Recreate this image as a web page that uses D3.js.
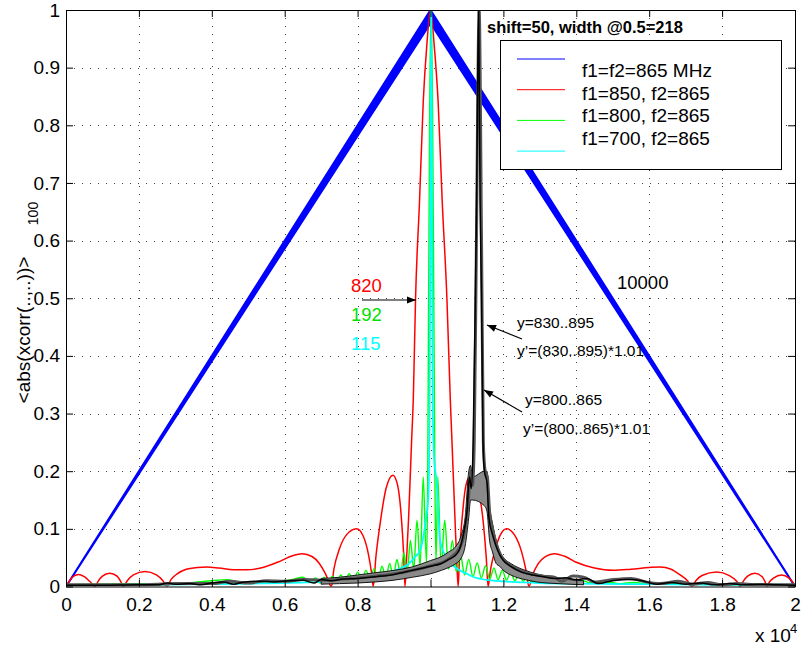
<!DOCTYPE html>
<html>
<head>
<meta charset="utf-8">
<script src="https://cdn.jsdelivr.net/npm/d3@7"></script>
<style>
  body { margin: 0; background: #fff; }
  svg text { font-family: "Liberation Sans", Arial, Helvetica, sans-serif; }
</style>
</head>
<body>
<svg id="chart"></svg>
<script>
// lags on x (axis shows them in units of 10^4), mean |xcorr| on y
const xTicks = [0, 2000, 4000, 6000, 8000, 10000, 12000, 14000, 16000, 18000, 20000];
const yTicks = [0, 0.1, 0.2, 0.3, 0.4, 0.5, 0.6, 0.7, 0.8, 0.9, 1];

// f1=f2=865 MHz : triangle, two nearly identical curves
const blueX = [0, 10000, 20000];
const blueHi = [0, 1, 0];
const blueLo = [0, 0.977, 0];

// f1=850, f2=865
const redX = [0, 80, 170, 340, 500, 650, 800, 880, 1000, 1200, 1400, 1500, 1570, 1680, 1850, 2170, 2480, 2660, 2770,
  2880, 3050, 3300, 3600, 3860, 4200, 4600, 4960, 5400, 5800, 6200, 6480, 6750, 6950, 7120, 7280,
  7350, 7500, 7700, 7970, 8150, 8300, 8380, 8430, 8500, 8620, 8780, 8970, 9100, 9200, 9260, 9300,
  9330, 9400, 9480, 9530, 9590, 9700, 9800, 9900, 10000, 10100, 10210, 10320, 10450, 10540, 10590, 10670, 10730, 10760,
  10800, 10870, 10970, 11100, 11300, 11450, 11530, 11580, 11650, 11780, 11920, 12090, 12300, 12500, 12620, 12700,
  12800, 12960, 13150, 13400, 13700, 14000, 14500, 15000, 15500, 16000, 16300, 16600, 16850, 17050, 17170,
  17280, 17450, 17850, 18200, 18400, 18500, 18580, 18700, 18900, 19100, 19180, 19230, 19300, 19420, 19630, 19830, 19940, 20000];
const redY = [0, 0.008, 0.016, 0.021, 0.017, 0.009, 0, 0.009, 0.018, 0.023, 0.018, 0.009, 0, 0.01, 0.02, 0.026, 0.02, 0.01, 0,
  0.012, 0.022, 0.03, 0.033, 0.034, 0.032, 0.029, 0.029, 0.033, 0.042, 0.053, 0.057, 0.052, 0.04, 0.022, 0,
  0.03, 0.065, 0.09, 0.1, 0.088, 0.055, 0.025, 0, 0.05, 0.11, 0.17, 0.193, 0.175, 0.12, 0.06, 0,
  0.03, 0.12, 0.25, 0.33, 0.5, 0.67, 0.84, 0.94, 1, 0.94, 0.84, 0.67, 0.5, 0.33, 0.25, 0.12, 0.03, 0,
  0.06, 0.12, 0.175, 0.193, 0.17, 0.11, 0.05, 0, 0.03, 0.065, 0.09, 0.1, 0.09, 0.06, 0.028, 0,
  0.02, 0.04, 0.052, 0.057, 0.052, 0.042, 0.032, 0.028, 0.03, 0.033, 0.034, 0.03, 0.02, 0.01, 0,
  0.01, 0.019, 0.025, 0.019, 0.009, 0, 0.009, 0.018, 0.023, 0.017, 0.008, 0, 0.008, 0.015, 0.02, 0.015, 0.007, 0];

// f1=800, f2=865
const greenX = [0, 1000, 2000, 2800, 3500, 4000, 4400, 4800, 5300, 5800, 6200, 6500, 6700,
  6850, 6965, 7080, 7195, 7310, 7425, 7540, 7655, 7770, 7885, 8000, 8115, 8230, 8340, 8450, 8560, 8670, 8775, 8880, 8980,
  9080, 9175, 9270, 9360, 9450, 9540, 9630, 9715, 9800, 9890,
  9925, 9945, 9975, 10015, 10060, 10095, 10120, 10150,
  10200, 10290, 10390, 10495, 10600, 10710, 10820, 10935, 11050, 11165, 11280, 11395, 11510, 11625, 11740, 11855, 11970, 12085,
  12200, 12315, 12430, 12545, 12660, 12775, 12890, 13005, 13120, 13235,
  13500, 13800, 14100, 14400, 14800, 15200, 15600, 16000, 16500, 17000, 17500, 18000, 18500, 19000, 19500, 20000];
const greenY = [0.003, 0.004, 0.005, 0.004, 0.007, 0.01, 0.012, 0.007, 0.008, 0.009, 0.012, 0.016, 0.008,
  0.015, 0.006, 0.016, 0.007, 0.018, 0.008, 0.02, 0.009, 0.022, 0.01, 0.025, 0.011, 0.028, 0.012, 0.031, 0.013, 0.035, 0.015, 0.04, 0.017,
  0.047, 0.02, 0.058, 0.025, 0.08, 0.03, 0.115, 0.035, 0.19, 0.04,
  0.2, 0.45, 0.8, 1, 0.8, 0.45, 0.2, 0.04,
  0.19, 0.035, 0.115, 0.03, 0.08, 0.025, 0.056, 0.02, 0.047, 0.017, 0.041, 0.015, 0.036, 0.013, 0.032, 0.012, 0.028, 0.011,
  0.025, 0.01, 0.021, 0.009, 0.017, 0.008, 0.014, 0.007, 0.012, 0.006,
  0.009, 0.006, 0.012, 0.006, 0.008, 0.005, 0.007, 0.004, 0.006, 0.004, 0.005, 0.003, 0.004, 0.003, 0.003, 0.002];

// f1=700, f2=865
const cyanX = [0, 2000, 4000, 5000, 6000, 7000, 7500, 8000, 8500, 8800, 9000, 9160, 9400, 9570, 9710, 9800, 9880, 9940, 9975, 9995,
  10020, 10045, 10065, 10100, 10170, 10220, 10260, 10440, 10700, 11000, 11200, 11600, 12000, 13000, 14000, 16000, 18000, 20000];
const cyanY = [0.002, 0.003, 0.004, 0.005, 0.006, 0.008, 0.01, 0.012, 0.016, 0.022, 0.027, 0.031, 0.039, 0.051, 0.0625, 0.085, 0.12, 0.155, 0.3, 0.6,
  1, 0.6, 0.3, 0.22, 0.18, 0.12, 0.08, 0.05, 0.032, 0.022, 0.016, 0.011, 0.009, 0.006, 0.005, 0.004, 0.003, 0.003];

// shifted signal, y=830..895 and y'=(830..895)*1.01
const blackAX = [0, 1000, 2000, 2500, 2800, 3000, 3400, 3700, 4000, 4300, 4600, 4900, 5300, 5700, 6100, 6500, 6800, 7000, 7300, 7600,
  8000, 8500, 9000, 9500, 10000, 10300, 10500, 10700, 10800, 10900, 11000, 11070, 11120, 11170, 11230, 11265, 11320, 11360, 11400, 11440,
  11480, 11550, 11600, 11700, 11800, 11900, 12000, 12200, 12500, 12800, 13100, 13400, 13700, 14000, 14300, 14600, 15000, 15400, 15800, 16200,
  16600, 17000, 17400, 17800, 18200, 18600, 19000, 19500, 20000];
const blackAY = [0.002, 0.002, 0.003, 0.003, 0.006, 0.004, 0.005, 0.003, 0.006, 0.008, 0.004, 0.008, 0.009, 0.008, 0.01, 0.011, 0.006, 0.012, 0.01, 0.013,
  0.014, 0.017, 0.021, 0.028, 0.035, 0.04, 0.047, 0.055, 0.065, 0.09, 0.13, 0.19, 0.17, 0.25, 0.5, 0.67, 1, 0.67, 0.5, 0.25,
  0.2, 0.18, 0.12, 0.09, 0.07, 0.055, 0.045, 0.035, 0.025, 0.02, 0.017, 0.014, 0.015, 0.012, 0.014, 0.005, 0.01, 0.012, 0.01, 0.004,
  0.007, 0.004, 0.006, 0.003, 0.005, 0.003, 0.004, 0.003, 0.002];
const blackBX = [0, 2000, 3000, 4000, 4500, 5000, 5500, 6000, 6500, 7000, 8000, 9000, 10000, 10500, 10800, 10950, 11050, 11100, 11150, 11200,
  11260, 11335, 11400, 11450, 11500, 11560, 11620, 11700, 11800, 11900, 12000, 12200, 12500, 12800, 13100, 13400, 13600, 13900, 14200, 14500,
  15000, 15500, 15900, 16300, 16800, 17200, 17600, 18000, 18400, 19000, 20000];
const blackBY = [0.003, 0.003, 0.005, 0.005, 0.009, 0.006, 0.01, 0.009, 0.012, 0.011, 0.015, 0.022, 0.036, 0.048, 0.067, 0.1, 0.16, 0.2, 0.175, 0.25,
  0.6, 1, 0.6, 0.25, 0.2, 0.19, 0.13, 0.1, 0.075, 0.058, 0.047, 0.036, 0.026, 0.021, 0.018, 0.016, 0.009, 0.018, 0.016, 0.008,
  0.012, 0.014, 0.008, 0.005, 0.009, 0.004, 0.007, 0.003, 0.005, 0.003, 0.003];
// envelope of the fast ripple on the shifted curves
const rippleX = [7000, 7500, 8000, 8500, 9000, 9500, 10000, 10300, 10500, 10700, 10850, 10950, 11050, 11100, 11150,
  11480, 11550, 11620, 11700, 11800, 11900, 12000, 12200, 12400, 12600, 12900, 13200, 13500, 13800, 14200];
const rippleLo = [0.004, 0.005, 0.006, 0.008, 0.011, 0.016, 0.022, 0.028, 0.033, 0.04, 0.05, 0.07, 0.12, 0.15, 0.15,
  0.14, 0.13, 0.08, 0.06, 0.04, 0.035, 0.028, 0.02, 0.015, 0.012, 0.008, 0.006, 0.005, 0.004, 0.003];
const rippleHi = [0.014, 0.016, 0.02, 0.024, 0.028, 0.034, 0.045, 0.052, 0.06, 0.07, 0.09, 0.12, 0.2, 0.21, 0.19,
  0.2, 0.2, 0.14, 0.11, 0.08, 0.06, 0.05, 0.04, 0.033, 0.028, 0.022, 0.018, 0.015, 0.012, 0.01];

const legendLabels = ["f1=f2=865 MHz", "f1=850, f2=865", "f1=800, f2=865", "f1=700, f2=865"];
const legendColors = ["#0000ff", "#ff0000", "#00ff00", "#00ffff"];
const widthLabels = ["820", "192", "115"];
const widthColors = ["#ff0000", "#00e000", "#00ffff"];

const W = 801, H = 650;
const box = { left: 66, right: 795, top: 10, bottom: 586.5 };

const svg = d3.select("#chart").attr("width", W).attr("height", H);

const x = d3.scaleLinear().domain([0, 20000]).range([box.left, box.right]);
const y = d3.scaleLinear().domain([0, 1]).range([box.bottom, box.top]);

svg.append("defs").append("clipPath").attr("id", "clip")
  .append("rect").attr("x", box.left).attr("y", box.top)
  .attr("width", box.right - box.left).attr("height", box.bottom - box.top);

svg.append("defs").append("marker").attr("id", "head")
  .attr("viewBox", "0 0 10 10").attr("refX", 10).attr("refY", 5)
  .attr("markerWidth", 12).attr("markerHeight", 9).attr("markerUnits", "userSpaceOnUse")
  .attr("orient", "auto")
  .append("path").attr("d", "M0,1 L10,5 L0,9 Z").attr("fill", "#000");

// dotted grid
const grid = svg.append("g").attr("stroke", "#444").attr("stroke-dasharray", "1,7")
  .attr("shape-rendering", "crispEdges");
grid.selectAll(".gx").data(xTicks.slice(1, -1)).join("line")
  .attr("x1", d => Math.round(x(d)) + 0.5).attr("x2", d => Math.round(x(d)) + 0.5)
  .attr("y1", box.top).attr("y2", box.bottom);
grid.selectAll(".gy").data(yTicks.slice(1, -1)).join("line")
  .attr("y1", d => Math.round(y(d)) + 0.5).attr("y2", d => Math.round(y(d)) + 0.5)
  .attr("x1", box.left).attr("x2", box.right);

const plot = svg.append("g").attr("clip-path", "url(#clip)");

const line = (xs, ys) => d3.line().curve(d3.curveMonotoneX)
  .x((d, i) => x(xs[i])).y(d => y(d))(ys);

// blue band
plot.append("path")
  .datum(blueX)
  .attr("d", d3.area().x(d => x(d)).y0((d, i) => y(blueLo[i])).y1((d, i) => y(blueHi[i])))
  .attr("fill", "#0000ff").attr("stroke", "#0000ff").attr("stroke-width", 2);

plot.append("path").attr("d", line(redX, redY))
  .attr("fill", "none").attr("stroke", "#ff0000").attr("stroke-width", 1.5);
plot.append("path").attr("d", line(greenX, greenY))
  .attr("fill", "none").attr("stroke", "#00ff00").attr("stroke-width", 1.4);
plot.append("path").attr("d", line(cyanX, cyanY))
  .attr("fill", "none").attr("stroke", "#00ffff").attr("stroke-width", 1.8);

plot.append("path")
  .datum(rippleX)
  .attr("d", d3.area().curve(d3.curveMonotoneX).x(d => x(d))
    .y0((d, i) => y(rippleLo[i])).y1((d, i) => y(rippleHi[i])))
  .attr("fill", "#8a8a8a").attr("stroke", "#000").attr("stroke-width", 0.9);
plot.append("path").attr("d", line(blackBX, blackBY))
  .attr("fill", "none").attr("stroke", "#555").attr("stroke-width", 3);
plot.append("path").attr("d", line(blackAX, blackAY))
  .attr("fill", "none").attr("stroke", "#000").attr("stroke-width", 1.5);

// axes, MATLAB style: ticks inside on all four sides
const axG = svg.append("g").attr("font-size", 19);
axG.append("g").attr("transform", `translate(0,${box.bottom})`)
  .call(d3.axisBottom(x).tickValues(xTicks).tickSizeInner(-7).tickSizeOuter(0).tickPadding(11)
    .tickFormat(d => d / 1e4));
axG.append("g").attr("transform", `translate(${box.left},0)`)
  .call(d3.axisLeft(y).tickValues(yTicks).tickSizeInner(-7).tickSizeOuter(0).tickPadding(6)
    .tickFormat(d => d));
axG.append("g").attr("transform", `translate(0,${box.top})`)
  .call(d3.axisTop(x).tickValues(xTicks).tickSizeInner(-7).tickSizeOuter(0).tickFormat(""));
axG.append("g").attr("transform", `translate(${box.right},0)`)
  .call(d3.axisRight(y).tickValues(yTicks).tickSizeInner(-7).tickSizeOuter(0).tickFormat(""));
axG.selectAll("text").attr("font-family", null).attr("fill", "#000").attr("font-size", 19);
axG.selectAll("path, line").attr("stroke", "#000");

// axis labels
svg.append("text").attr("transform", "translate(29.5,330) rotate(-90)")
  .attr("text-anchor", "middle").attr("font-size", 19).text("<abs(xcorr(..,..))>");
svg.append("text").attr("transform", "translate(38,213.5) rotate(-90)")
  .attr("text-anchor", "middle").attr("font-size", 14).text("100");
svg.append("text").attr("x", 755).attr("y", 642).attr("font-size", 19).text("x 10");
svg.append("text").attr("x", 790).attr("y", 633).attr("font-size", 13).text("4");

// title
svg.append("text").attr("x", 487).attr("y", 33).attr("font-size", 16.5)
  .attr("font-weight", "bold").text("shift=50, width @0.5=218");

// legend
const lg = svg.append("g");
lg.append("rect").attr("x", 500.5).attr("y", 40.5).attr("width", 281).attr("height", 129)
  .attr("fill", "#fff").attr("stroke", "#000");
lg.selectAll(".ll").data(legendLabels).join("line")
  .attr("x1", 517).attr("x2", 565)
  .attr("y1", (d, i) => 59 + i * 30.7).attr("y2", (d, i) => 59 + i * 30.7)
  .attr("stroke", (d, i) => legendColors[i]).attr("stroke-width", 1);
lg.selectAll(".lt").data(legendLabels).join("text")
  .attr("x", 582).attr("y", (d, i) => 77 + i * 22.7)
  .attr("font-size", 19).text(d => d);

// annotations
const ann = svg.append("g");
ann.selectAll(".wl").data(widthLabels).join("text")
  .attr("x", 351).attr("y", (d, i) => 292 + i * 28.8)
  .attr("font-size", 18.5).attr("fill", (d, i) => widthColors[i]).text(d => d);
ann.append("text").attr("x", 617).attr("y", 289).attr("font-size", 18.5).text("10000");
ann.append("text").attr("x", 517).attr("y", 328).attr("font-size", 15.5).text("y=830..895");
ann.append("text").attr("x", 517).attr("y", 356).attr("font-size", 15.5).text("y\u2019=(830..895)*1.01");
ann.append("text").attr("x", 525).attr("y", 405).attr("font-size", 15.5).text("y=800..865");
ann.append("text").attr("x", 523).attr("y", 434).attr("font-size", 15.5).text("y\u2019=(800..865)*1.01");

const arrows = [[362, 300, 416, 300], [522, 339, 487, 325], [522, 412, 484, 390]];
ann.selectAll(".ar").data(arrows).join("line")
  .attr("x1", d => d[0]).attr("y1", d => d[1]).attr("x2", d => d[2]).attr("y2", d => d[3])
  .attr("stroke", "#000").attr("stroke-width", 1.2).attr("marker-end", "url(#head)");
</script>
</body>
</html>
